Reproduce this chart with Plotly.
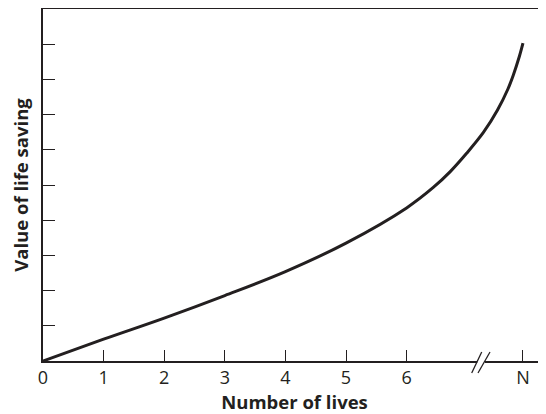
import plotly.graph_objects as go

# Data (N placed on the continuous scale after the axis break)
lives = [0, 1, 2, 3, 4, 5, 6, 6.44, 6.72, 6.99, 7.27, 7.50, 7.67, 7.76, 7.86, 7.92]
value = [0, 0.62, 1.22, 1.86, 2.54, 3.35, 4.35, 4.93, 5.38, 5.90, 6.50, 7.13, 7.72, 8.12, 8.65, 9.03]

x_tickvals = [0, 1, 2, 3, 4, 5, 6, 7.92]
x_ticktext = ["0", "1", "2", "3", "4", "5", "6", "N"]
y_tickvals = [1, 2, 3, 4, 5, 6, 7, 8, 9]

INK = "#231f20"
FONT = "Open Sans"

fig = go.Figure()
fig.add_trace(go.Scatter(
    x=lives, y=value, mode="lines",
    line=dict(color=INK, width=3, shape="spline", smoothing=1.0),
    hoverinfo="skip", showlegend=False, cliponaxis=False,
))

# the page body has an 8px default margin, so the figure is sized to fit the window
fig.update_layout(
    width=538, height=406,
    margin=dict(l=35, r=0, t=1, b=53),
    paper_bgcolor="white", plot_bgcolor="white",
    font=dict(family=FONT, color=INK),
    xaxis=dict(
        range=[0, 8.30], showgrid=False, zeroline=False, automargin=False,
        showline=True, linecolor=INK, linewidth=1.5, mirror=True,
        ticks="inside", ticklen=11, tickwidth=1.3, tickcolor=INK,
        tickvals=x_tickvals, ticktext=x_ticktext,
        tickfont=dict(size=18, family=FONT, color=INK),
        title=dict(text="<b>Number of lives</b>", font=dict(size=18.5, family=FONT, color=INK), standoff=11),
    ),
    yaxis=dict(
        range=[0, 10], showgrid=False, zeroline=False, automargin=False,
        showline=True, linecolor=INK, linewidth=1.5, mirror=False,
        ticks="inside", ticklen=12, tickwidth=1.3, tickcolor=INK,
        tickvals=y_tickvals, showticklabels=False,
        title=dict(text="<b>Value of life saving</b>", font=dict(size=18.5, family=FONT, color=INK), standoff=16),
    ),
)

# axis break "//" near the N tick
fig.add_shape(type="rect", xref="paper", yref="paper",
              x0=0.8634, x1=0.8785, y0=-0.008, y1=0.008,
              fillcolor="white", line=dict(width=0), layer="above")
fig.add_shape(type="line", xref="paper", yref="paper",
              x0=0.8523, y0=-0.034, x1=0.8722, y1=0.0256,
              line=dict(color=INK, width=1.3), layer="above")
fig.add_shape(type="line", xref="paper", yref="paper",
              x0=0.8648, y0=-0.034, x1=0.8887, y1=0.0256,
              line=dict(color=INK, width=1.3), layer="above")

fig.write_html("out.html")
